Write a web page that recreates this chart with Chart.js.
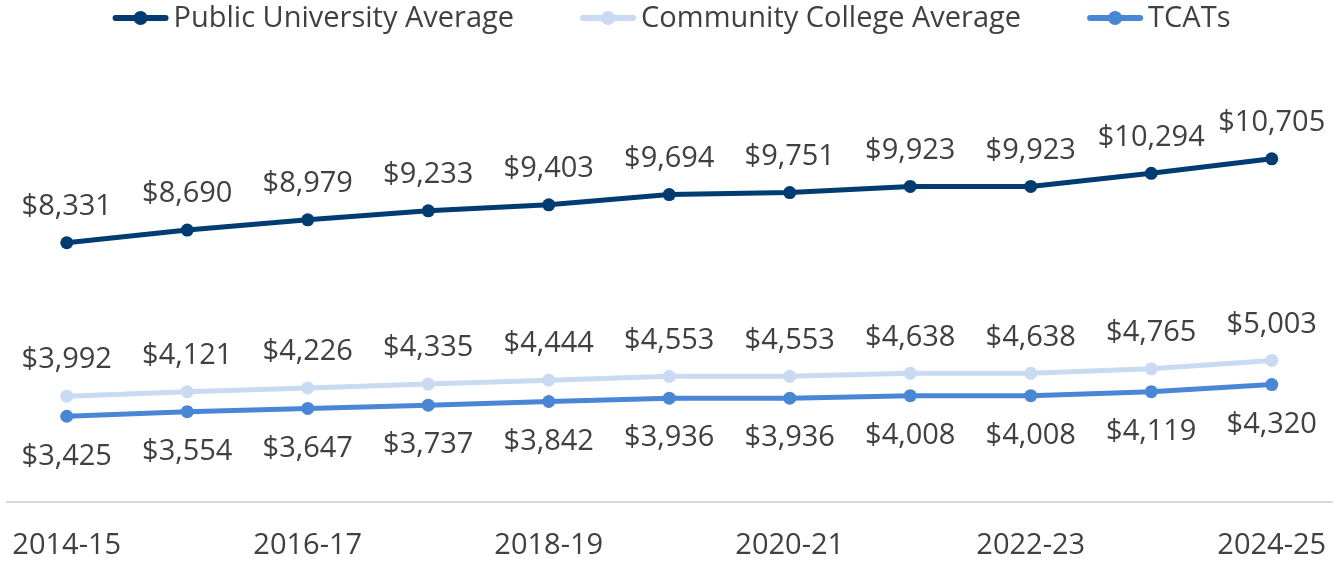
<!DOCTYPE html>
<html>
<head>
<meta charset="utf-8">
<script src="https://cdn.jsdelivr.net/npm/chart.js@4"></script>
<style>
  html, body { margin: 0; padding: 0; background: #fff; }
  #wrap { width: 1343px; height: 563px; }
</style>
</head>
<body>
<div id="wrap"><canvas id="tuitionChart" width="1343" height="563"></canvas></div>
<script>
const years = ['2014-15', '2015-16', '2016-17', '2017-18', '2018-19', '2019-20',
               '2020-21', '2021-22', '2022-23', '2023-24', '2024-25'];
const publicUniv = [8331, 8690, 8979, 9233, 9403, 9694, 9751, 9923, 9923, 10294, 10705];
const communityCollege = [3992, 4121, 4226, 4335, 4444, 4553, 4553, 4638, 4638, 4765, 5003];
const tcats = [3425, 3554, 3647, 3737, 3842, 3936, 3936, 4008, 4008, 4119, 4320];

const FONT = '"Open Sans", sans-serif';
const TEXT = '#404040';
const FSIZE = 29;

// Wert-Beschriftungen über / unter den Punkten
const valueLabels = {
    id: 'valueLabels',
    afterDatasetsDraw(chart) {
        const ctx = chart.ctx;
        ctx.save();
        ctx.font = FSIZE + 'px ' + FONT;
        ctx.fillStyle = TEXT;
        ctx.textAlign = 'center';
        ctx.textBaseline = 'middle';
        chart.data.datasets.forEach((ds, i) => {
            const meta = chart.getDatasetMeta(i);
            const off = ds.labelBelow ? 40 : -36;
            meta.data.forEach((pt, j) => {
                ctx.fillText('$' + ds.data[j].toLocaleString('en-US'), pt.x, pt.y + off);
            });
        });
        ctx.restore();
    }
};

// Legende mit Linie + Punkt
const lineLegend = {
    id: 'lineLegend',
    afterDraw(chart) {
        const ctx = chart.ctx;
        ctx.save();
        ctx.font = FSIZE + 'px ' + FONT;
        const sw = 56, gap = 5, between = 66, y = 18;
        const items = chart.data.datasets.map(ds => ({
            ds, w: sw + gap + ctx.measureText(ds.label).width
        }));
        const total = items.reduce((s, it) => s + it.w, 0) + between * (items.length - 1);
        let x = (chart.width - total) / 2;
        items.forEach(it => {
            ctx.strokeStyle = it.ds.borderColor;
            ctx.lineWidth = 6;
            ctx.lineCap = 'round';
            ctx.beginPath();
            ctx.moveTo(x + 3, y);
            ctx.lineTo(x + sw - 3, y);
            ctx.stroke();
            ctx.fillStyle = it.ds.borderColor;
            ctx.beginPath();
            ctx.arc(x + sw / 2, y, 7, 0, Math.PI * 2);
            ctx.fill();
            ctx.fillStyle = TEXT;
            ctx.textAlign = 'left';
            ctx.textBaseline = 'middle';
            ctx.fillText(it.ds.label, x + sw + gap, y + 1);
            x += it.w + between;
        });
        ctx.restore();
    }
};

function series(label, data, color, below) {
    return {
        label, data,
        borderColor: color,
        backgroundColor: color,
        borderWidth: 5,
        pointRadius: 6.5,
        pointHoverRadius: 6.5,
        pointBackgroundColor: color,
        pointBorderWidth: 0,
        tension: 0,
        fill: false,
        labelBelow: below
    };
}

new Chart(document.getElementById('tuitionChart').getContext('2d'), {
    type: 'line',
    data: {
        labels: years,
        datasets: [
            series('Public University Average', publicUniv, '#003b71', false),
            series('Community College Average', communityCollege, '#c9daf2', false),
            series('TCATs', tcats, '#4a86d6', true)
        ]
    },
    options: {
        responsive: false,
        animation: false,
        layout: { padding: { top: 113, left: 4, right: 11, bottom: 0 } },
        plugins: {
            legend: { display: false },
            tooltip: { enabled: false }
        },
        scales: {
            x: {
                offset: true,
                grid: { display: false, drawTicks: false },
                border: { display: true, color: '#d9d9d9', width: 2 },
                ticks: {
                    autoSkip: false,
                    maxRotation: 0,
                    padding: 26,
                    color: TEXT,
                    font: { family: FONT, size: FSIZE },
                    callback: (v, i) => (i % 2 === 0 ? years[i] : '')
                },
                afterFit: (scale) => {
                    scale.paddingLeft = 0;
                    scale.paddingRight = 0;
                    scale.height = 61;
                }
            },
            y: {
                display: false,
                min: 1000,
                max: 12000
            }
        }
    },
    plugins: [valueLabels, lineLegend]
});
</script>
</body>
</html>
